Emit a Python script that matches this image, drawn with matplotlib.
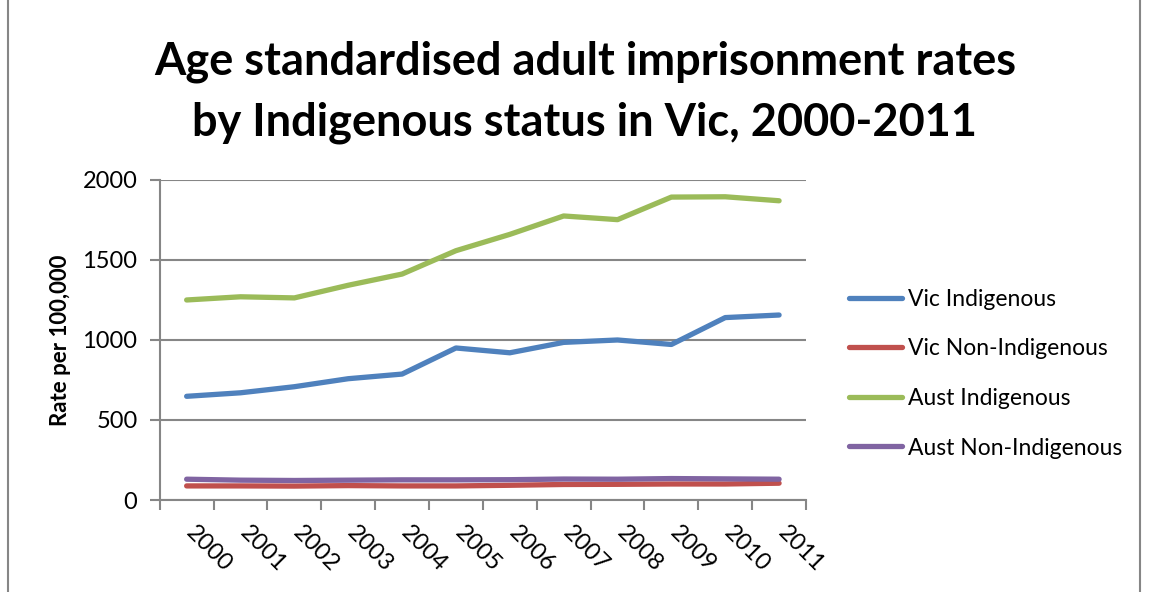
import numpy as np
import matplotlib.pyplot as plt
import matplotlib.transforms as mtransforms
from matplotlib.lines import Line2D

# data
years = ['2000', '2001', '2002', '2003', '2004', '2005',
         '2006', '2007', '2008', '2009', '2010', '2011']
vic_indig = [648, 670, 708, 758, 787, 950, 920, 985, 1000, 972, 1140, 1156]
vic_non = [88, 88, 87, 90, 88, 88, 92, 97, 98, 100, 100, 105]
aust_indig = [1250, 1270, 1263, 1342, 1412, 1558, 1660, 1775, 1752, 1893, 1895, 1870]
aust_non = [130, 124, 122, 124, 126, 126, 127, 131, 130, 134, 132, 130]

labels = ['Vic Indigenous', 'Vic Non-Indigenous', 'Aust Indigenous', 'Aust Non-Indigenous']
colors = ['#4F81BD', '#C0504D', '#9BBB59', '#8064A2']

plt.rcParams['font.family'] = ['Lato', 'DejaVu Sans']
grey = '#868686'

fig = plt.figure(figsize=(11.49, 5.92), dpi=100)
ax = fig.add_axes([0.139, 0.1554, 0.5625, 0.5406])

x = np.arange(len(years))
series = [vic_indig, vic_non, aust_indig, aust_non]
for vals, c, lab in zip(series, colors, labels):
    ax.plot(x, vals, color=c, lw=3.8, solid_capstyle='round',
            solid_joinstyle='round', label=lab)

ax.set_xlim(-0.5, len(years) - 0.5)
ax.set_ylim(0, 2000)
ax.set_yticks([0, 500, 1000, 1500, 2000])
ax.yaxis.grid(True, color=grey, lw=1.5)
ax.set_axisbelow(True)

# ticks on category boundaries, labels on centres
ax.set_xticks(np.arange(-0.5, len(years)), labels=[''] * (len(years) + 1))
ax.set_xticks(x, labels=years, minor=True)
ax.tick_params(axis='x', which='minor', length=0, pad=16)
ax.tick_params(axis='x', which='major', length=7, width=1.5, color=grey)
ax.tick_params(axis='y', length=7, width=1.5, color=grey, labelsize=17, pad=9)
shift = mtransforms.ScaledTranslation(10 / 100, 0, fig.dpi_scale_trans)
for t in ax.get_xticklabels(minor=True):
    t.set_rotation(-45)
    t.set_ha('left')
    t.set_va('top')
    t.set_rotation_mode('anchor')
    t.set_fontsize(17)
    t.set_transform(t.get_transform() + shift)

for s in ['top', 'right']:
    ax.spines[s].set_visible(False)
for s in ['left', 'bottom']:
    ax.spines[s].set_color(grey)
    ax.spines[s].set_linewidth(1.5)

ax.set_ylabel('Rate per 100,000', fontsize=16, fontweight='bold', labelpad=8)

fig.text(0.509, 0.895, 'Age standardised adult imprisonment rates',
         ha='center', va='center', fontsize=32.5, fontweight='bold')
fig.text(0.509, 0.793, 'by Indigenous status in Vic, 2000-2011',
         ha='center', va='center', fontsize=32.5, fontweight='bold')

handles = [Line2D([], [], color=c, lw=3.8, solid_capstyle='round') for c in colors]
fig.legend(handles, labels, loc='center left', bbox_to_anchor=(0.729, 0.369),
           frameon=False, fontsize=16.5, handlelength=2.3, handletextpad=0.25,
           labelspacing=1.25, borderpad=0)

# chart border
fig.add_artist(Line2D([0.007, 0.007], [0, 1], color=grey, lw=1.5))
fig.add_artist(Line2D([0.992, 0.992], [0, 1], color=grey, lw=1.5))

fig.savefig('out.png', dpi=100)
